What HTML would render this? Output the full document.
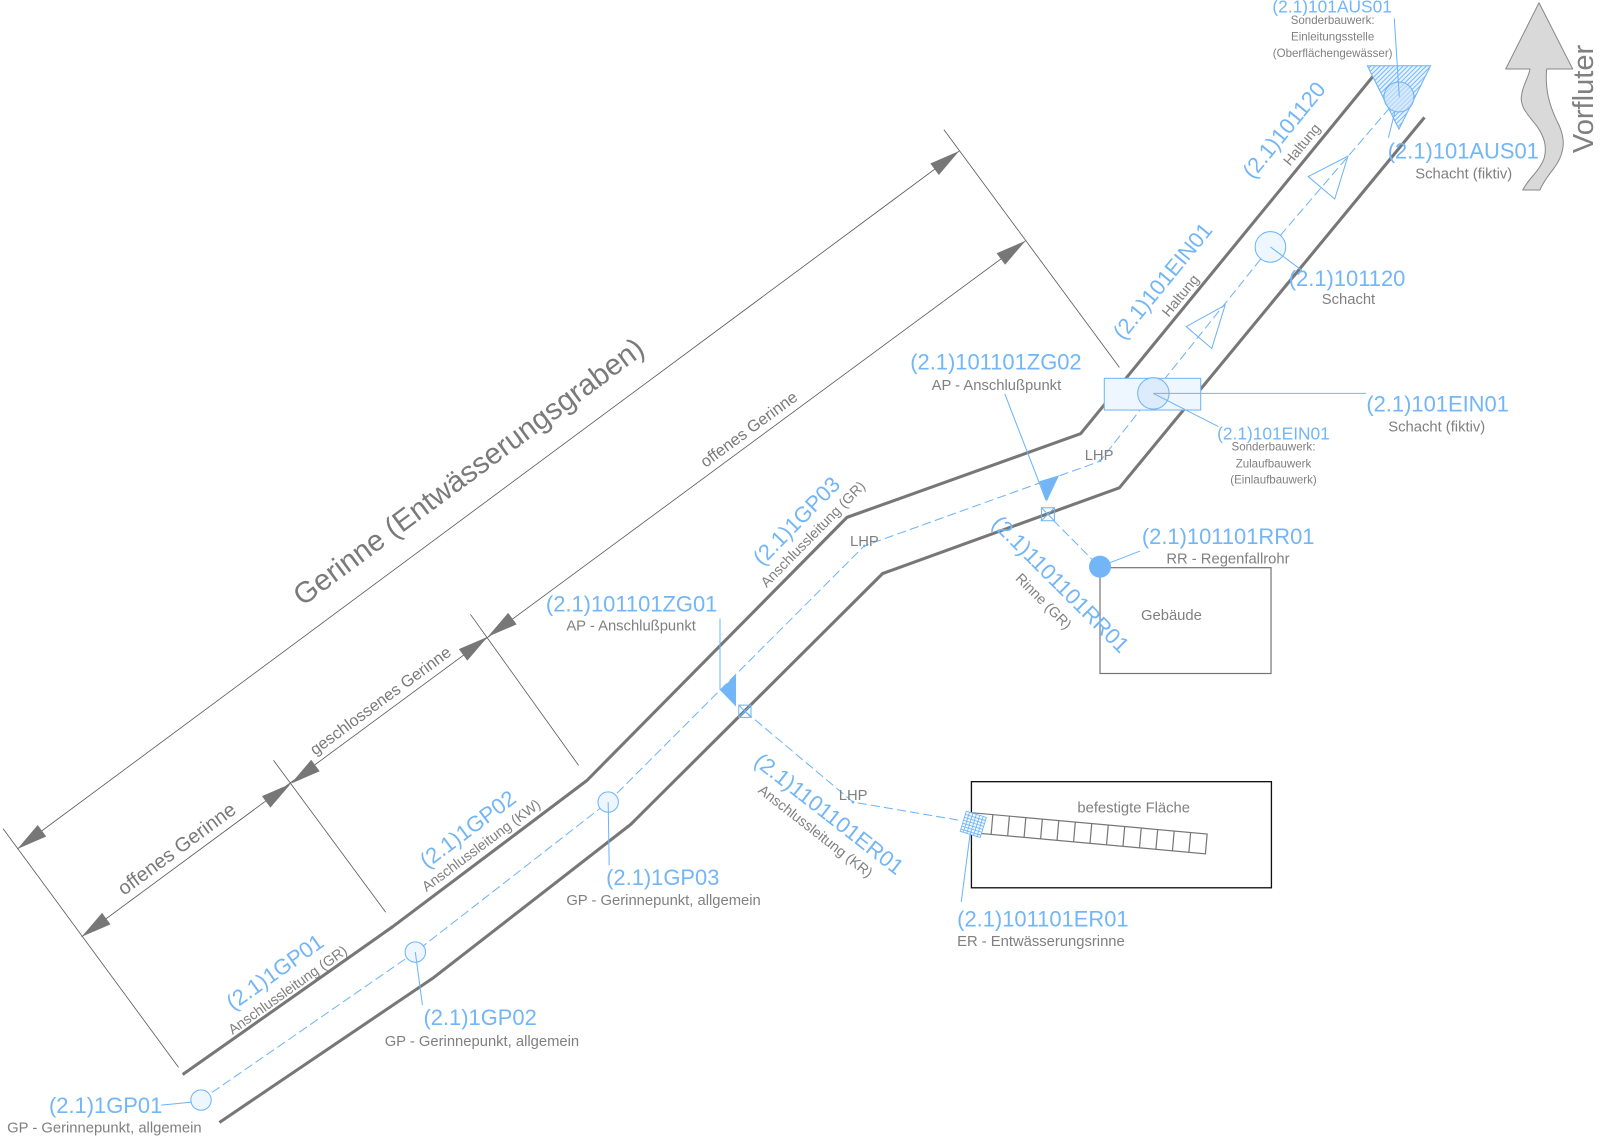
<!DOCTYPE html>
<html><head><meta charset="utf-8"><style>
html,body{margin:0;padding:0;background:#fff;}
svg{display:block;}
text{font-family:"Liberation Sans",Arial,sans-serif;}
.b{fill:#72b6f7;}
.g{fill:#808080;}
.d{fill:#7a7a7a;}
</style></head><body>
<svg width="1600" height="1137" viewBox="0 0 1568 1114.2" xmlns="http://www.w3.org/2000/svg">
<defs>
<pattern id="hatch" width="3.2" height="3.2" patternUnits="userSpaceOnUse" patternTransform="rotate(-45)">
<line x1="0" y1="0.5" x2="3.2" y2="0.5" stroke="#6cb4f8" stroke-width="0.9"/>
</pattern>
</defs>

<!-- dimension lines -->
<g stroke="#5a5a5a" stroke-width="0.8" fill="none">
<line x1="17" y1="832" x2="940" y2="148"/>
<line x1="80" y1="918" x2="1005" y2="236"/>
<line x1="3" y1="812" x2="175" y2="1046"/>
<line x1="268" y1="745" x2="378" y2="894"/>
<line x1="461" y1="602" x2="567" y2="750"/>
<line x1="925" y1="127" x2="1097" y2="360"/>
</g>
<g fill="#777">
<polygon points="17,832 45.29,819.78 36.96,808.52"/>
<polygon points="940,148 920.05,171.48 911.72,160.22"/>
<polygon points="80,918 108.3,905.85 100,894.58"/>
<polygon points="285,768 265,791.42 256.7,780.16"/>
<polygon points="285,768 313.3,755.85 305,744.58"/>
<polygon points="478,624 458,647.42 449.7,636.16"/>
<polygon points="478,624 506.3,611.85 498,600.58"/>
<polygon points="1005,236 985,259.42 976.7,248.16"/>
</g>
<text class="d" font-size="29" text-anchor="middle" transform="translate(465,470) rotate(-36.5)">Gerinne (Entwässerungsgraben)</text>
<text class="d" font-size="19.5" text-anchor="middle" transform="translate(177,837) rotate(-36.4)">offenes Gerinne</text>
<text class="d" font-size="16" text-anchor="middle" transform="translate(376,691) rotate(-36.4)">geschlossenes Gerinne</text>
<text class="d" font-size="16" text-anchor="middle" transform="translate(737,425) rotate(-36.4)">offenes Gerinne</text>

<!-- channel walls -->
<g stroke="#777" stroke-width="3" fill="none" stroke-linejoin="round">
<polyline points="179,1053 385,908 575,765 830,507 1059,425 1347,73"/>
<polyline points="215,1100 425,958 618,808 865,562 1097,478 1396,115"/>
</g>

<!-- center line -->
<polyline points="197,1078 407,933 596,786 847,535 1078,452 1130,385.5 1245,242 1371,95" fill="none" stroke="#6cb4f8" stroke-width="1" stroke-dasharray="9 4"/>

<!-- flow triangles -->
<g fill="none" stroke="#6cb4f8" stroke-width="1">
<polygon points="1162.5,320 1200.6,299 1187.5,341.5"/>
<polygon points="1282,173 1321,153 1308,195"/>
</g>

<!-- GP circles -->
<g fill="#eef6ff" stroke="#6cb4f8" stroke-width="1">
<circle cx="197" cy="1078" r="10"/>
<circle cx="407" cy="933" r="10"/>
<circle cx="596" cy="786" r="10"/>
<circle cx="1245" cy="242" r="15"/>
</g>
<g stroke="#6cb4f8" stroke-width="1">
<line x1="158" y1="1083" x2="188" y2="1080"/>
<line x1="407" y1="933" x2="414" y2="985"/>
<line x1="596" y1="786" x2="597" y2="848"/>
<line x1="1245" y1="242" x2="1276" y2="265"/>
</g>

<!-- ZG01 -->
<g stroke="#6cb4f8" stroke-width="1" fill="none">
<line x1="705.6" y1="606" x2="705.6" y2="676"/>
<rect x="724" y="691" width="12" height="12"/>
<line x1="724" y1="691" x2="736" y2="703"/>
<line x1="736" y1="691" x2="724" y2="703"/>
<polyline points="730,697 836,786 941,804" stroke-dasharray="9 4"/>
</g>
<polygon points="705.6,676.2 721.3,661.5 721.3,692.5" fill="#72b6f7"/>
<circle cx="836" cy="786" r="1.3" fill="#6cb4f8"/>
<circle cx="847" cy="535" r="1.3" fill="#6cb4f8"/>
<circle cx="1078" cy="451.5" r="1.3" fill="#6cb4f8"/>

<!-- ZG02 -->
<g stroke="#6cb4f8" stroke-width="1" fill="none">
<line x1="984.7" y1="386" x2="1025" y2="490"/>
<rect x="1020.6" y="497.6" width="12.7" height="12.7"/>
<line x1="1020.6" y1="497.6" x2="1033.3" y2="510.3"/>
<line x1="1033.3" y1="497.6" x2="1020.6" y2="510.3"/>
<line x1="1032" y1="509.6" x2="1070" y2="548" stroke-dasharray="9 4"/>
<line x1="1087.8" y1="551.4" x2="1117.2" y2="540"/>
</g>
<polygon points="1018.6,471.6 1038,465.7 1025.7,491.6" fill="#72b6f7"/>

<!-- Gebäude -->
<rect x="1078" y="556.3" width="167.6" height="103.7" fill="none" stroke="#777" stroke-width="1.2"/>
<circle cx="1078" cy="555.3" r="10.8" fill="#72b6f7"/>
<text class="g" font-size="14.5" x="1148" y="607.6" text-anchor="middle">Gebäude</text>

<!-- EIN01 -->
<rect x="1082.2" y="370.7" width="94.5" height="31.1" fill="#eef6ff" stroke="#6cb4f8" stroke-width="1"/>
<circle cx="1130.3" cy="385.5" r="15.4" fill="#dcecfc" stroke="#6cb4f8" stroke-width="1"/>
<g stroke="#6cb4f8" stroke-width="1">
<line x1="1130.3" y1="385.5" x2="1338.7" y2="385.5"/>
<line x1="1130.3" y1="385.5" x2="1194" y2="418"/>
</g>

<!-- AUS01 -->
<polygon points="1340,64.4 1402,64.4 1371,126.5" fill="#e6f2ff"/>
<polygon points="1340,64.4 1402,64.4 1371,126.5" fill="url(#hatch)" stroke="#6cb4f8" stroke-width="1"/>
<circle cx="1371" cy="95" r="14.7" fill="#cfe5fb" fill-opacity="0.6" stroke="#6cb4f8" stroke-width="1"/>
<g stroke="#6cb4f8" stroke-width="1">
<line x1="1366.4" y1="18" x2="1371.3" y2="94.8"/>
<line x1="1367" y1="109.4" x2="1360.6" y2="135"/>
</g>

<!-- Vorfluter arrow -->
<g transform="scale(0.98)">
<path d="M1539,2.7 L1572.7,69 L1546.7,69 C1546,76 1546,86 1548.3,96.7 C1550,105 1553.3,113.3 1557,121 C1561.7,130 1563.3,137 1563.3,143.3 C1563,152 1560,160 1554,168 C1549,175 1543,182 1540,190 L1522.7,190 C1527,182 1532,177 1535,173.3 C1540,167 1543.3,162 1544.5,156.7 C1546,150 1545,143.3 1544,140 C1542,134 1538,127 1533.3,121.7 C1528,115 1524,110 1523,106.7 C1521,101 1521,97 1521.7,95 C1522,90 1524,86 1525,83.3 C1527,78 1529.5,73 1530,69 L1505.7,69 Z" fill="#d9d9d9" stroke="#888" stroke-width="1" stroke-linejoin="round"/>
</g>
<text class="g" font-size="28.5" transform="translate(1561,150) rotate(-90)">Vorfluter</text>

<!-- befestigte Fläche -->
<rect x="952" y="766" width="294" height="104" fill="none" stroke="#111" stroke-width="1.3"/>
<text class="g" font-size="14.5" x="1111" y="796" text-anchor="middle">befestigte Fläche</text>
<g stroke="#777" stroke-width="1.2" fill="none">
<polygon points="952,796.4 1183,817.3 1181.3,836.7 950.3,815.8"/>
<line x1="973" y1="798.3" x2="971.3" y2="817.7"/>
<line x1="989.2" y1="799.8" x2="987.5" y2="819.2"/>
<line x1="1005.3" y1="801.2" x2="1003.6" y2="820.6"/>
<line x1="1021.5" y1="802.7" x2="1019.8" y2="822.1"/>
<line x1="1037.6" y1="804.1" x2="1035.9" y2="823.5"/>
<line x1="1053.8" y1="805.6" x2="1052.1" y2="825"/>
<line x1="1069.9" y1="807.1" x2="1068.2" y2="826.5"/>
<line x1="1086.1" y1="808.5" x2="1084.4" y2="827.9"/>
<line x1="1102.2" y1="810" x2="1100.5" y2="829.4"/>
<line x1="1118.4" y1="811.5" x2="1116.7" y2="830.9"/>
<line x1="1134.5" y1="812.9" x2="1132.8" y2="832.3"/>
<line x1="1150.7" y1="814.4" x2="1149" y2="833.8"/>
<line x1="1166.8" y1="815.8" x2="1165.1" y2="835.2"/>
</g>
<g transform="translate(953.8,807.8) rotate(17)" stroke="#6cb4f8" stroke-width="0.8" fill="#f2f8ff">
<rect x="-10.3" y="-10.3" width="20.6" height="20.6"/>
<line x1="-10.3" y1="-7" x2="10.3" y2="-7"/><line x1="-10.3" y1="-4" x2="10.3" y2="-4"/>
<line x1="-10.3" y1="-1" x2="10.3" y2="-1"/><line x1="-10.3" y1="2" x2="10.3" y2="2"/>
<line x1="-10.3" y1="5" x2="10.3" y2="5"/><line x1="-10.3" y1="8" x2="10.3" y2="8"/>
<line x1="-7" y1="-10.3" x2="-7" y2="10.3"/><line x1="-3.5" y1="-10.3" x2="-3.5" y2="10.3"/>
<line x1="0" y1="-10.3" x2="0" y2="10.3"/><line x1="3.5" y1="-10.3" x2="3.5" y2="10.3"/>
<line x1="7" y1="-10.3" x2="7" y2="10.3"/>
</g>
<line x1="950.6" y1="818" x2="942" y2="884" stroke="#6cb4f8" stroke-width="1"/>

<!-- LHP labels -->
<text class="g" font-size="14.5" x="1063" y="451">LHP</text>
<text class="g" font-size="14.5" x="833" y="535">LHP</text>
<text class="g" font-size="14.5" x="822" y="784">LHP</text>

<!-- horizontal labels -->
<g font-size="21.5" class="b">
<text class="b" x="48" y="1090.5">(2.1)1GP01</text>
<text class="b" x="415" y="1004.5">(2.1)1GP02</text>
<text class="b" x="594" y="867.5">(2.1)1GP03</text>
<text class="b" x="535" y="599.4">(2.1)101101ZG01</text>
<text class="b" x="892" y="362">(2.1)101101ZG02</text>
<text class="b" x="1119" y="533">(2.1)101101RR01</text>
<text class="b" x="938" y="908">(2.1)101101ER01</text>
<text class="b" x="1339" y="403.4">(2.1)101EIN01</text>
<text class="b" x="1263" y="280.5">(2.1)101120</text>
<text class="b" x="1360" y="155.5">(2.1)101AUS01</text>
</g>
<text class="b" font-size="17" x="1248" y="430.5" text-anchor="middle">(2.1)101EIN01</text>
<text class="b" font-size="17" x="1305.5" y="12.3" text-anchor="middle">(2.1)101AUS01</text>

<g font-size="14.5" class="g">
<text class="g" x="7" y="1110">GP - Gerinnepunkt, allgemein</text>
<text class="g" x="377" y="1025">GP - Gerinnepunkt, allgemein</text>
<text class="g" x="555" y="887">GP - Gerinnepunkt, allgemein</text>
<text class="g" x="555" y="618">AP - Anschlußpunkt</text>
<text class="g" x="913" y="382">AP - Anschlußpunkt</text>
<text class="g" x="1143" y="552">RR - Regenfallrohr</text>
<text class="g" x="938" y="927">ER - Entwässerungsrinne</text>
<text class="g" x="1408" y="423" text-anchor="middle">Schacht (fiktiv)</text>
<text class="g" x="1434.5" y="175" text-anchor="middle">Schacht (fiktiv)</text>
<text class="g" x="1321.5" y="298" text-anchor="middle">Schacht</text>
</g>
<g font-size="11.3" class="g" text-anchor="middle">
<text class="g" x="1248" y="441.6">Sonderbauwerk:</text>
<text class="g" x="1248" y="458">Zulaufbauwerk</text>
<text class="g" x="1248" y="473.7">(Einlaufbauwerk)</text>
<text class="g" x="1306" y="23.5">Sonderbauwerk:</text>
<text class="g" x="1306" y="39.7">Einleitungsstelle</text>
<text class="g" x="1306" y="56">(Oberflächengewässer)</text>
</g>

<!-- rotated labels -->
<g transform="translate(273.6,958.5) rotate(-35.4)" text-anchor="middle">
<text class="b" font-size="21.5" x="0" y="0">(2.1)1GP01</text>
<text class="g" font-size="14" x="0" y="19">Anschlussleitung (GR)</text>
</g>
<g transform="translate(462.8,818.4) rotate(-36.7)" text-anchor="middle">
<text class="b" font-size="21.5" x="0" y="0">(2.1)1GP02</text>
<text class="g" font-size="14" x="1" y="18">Anschlussleitung (KW)</text>
</g>
<g transform="translate(785.8,515.6) rotate(-45.5)" text-anchor="middle">
<text class="b" font-size="21.5" x="0" y="0">(2.1)1GP03</text>
<text class="g" font-size="14" x="2" y="18">Anschlussleitung (GR)</text>
</g>
<g transform="translate(1145,280) rotate(-50.7)" text-anchor="middle">
<text class="b" font-size="21.5" x="0" y="0">(2.1)101EIN01</text>
<text class="g" font-size="14" x="0" y="20">Haltung</text>
</g>
<g transform="translate(1264,132) rotate(-50.7)" text-anchor="middle">
<text class="b" font-size="21.5" x="0" y="0">(2.1)101120</text>
<text class="g" font-size="14" x="0" y="20">Haltung</text>
</g>
<g transform="translate(1034.3,577.7) rotate(45)" text-anchor="middle">
<text class="b" font-size="21.5" x="0" y="0">(2.1)1101101RR01</text>
<text class="g" font-size="14" x="0" y="21">Rinne (GR)</text>
</g>
<g transform="translate(808,803.3) rotate(38)" text-anchor="middle">
<text class="b" font-size="21.5" x="0" y="0">(2.1)1101101ER01</text>
<text class="g" font-size="14" x="0" y="19">Anschlussleitung (KR)</text>
</g>
</svg>
</body></html>
